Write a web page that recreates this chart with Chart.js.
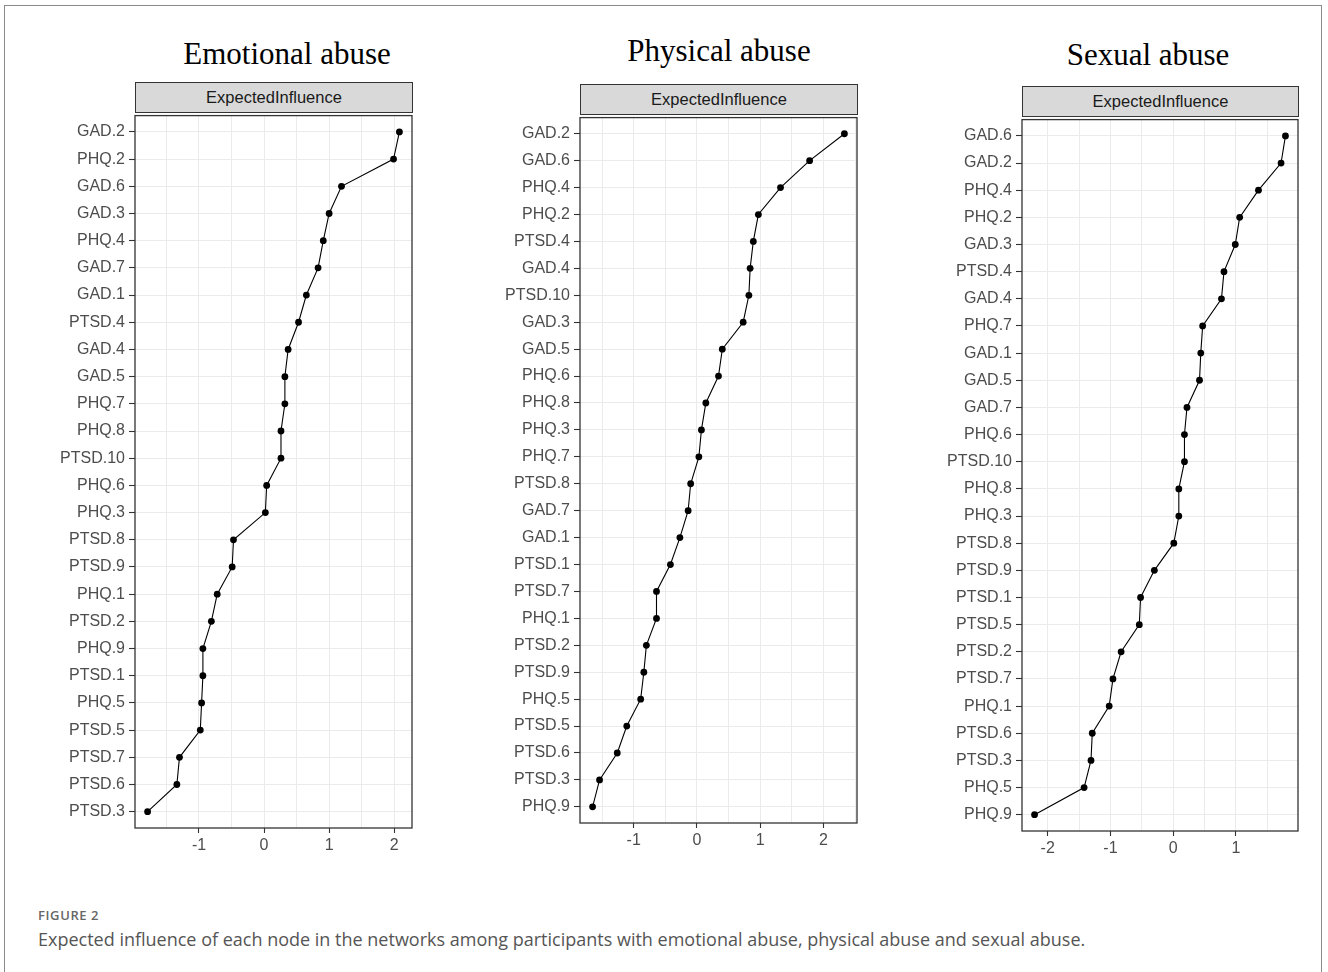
<!DOCTYPE html>
<html>
<head>
<meta charset="utf-8">
<script src="https://cdn.jsdelivr.net/npm/chart.js@4.4.0/dist/chart.umd.min.js"></script>
<style>
  html, body { margin: 0; padding: 0; background: #fff; }
  body { width: 1328px; height: 972px; position: relative; overflow: hidden; }
  #frame { position: absolute; left: 4px; top: 5px; width: 1318px; height: 1000px;
           border: 1.5px solid #8a8a8a; border-bottom: none; box-sizing: border-box; }
  .title { position: absolute; font-family: "Liberation Serif", "Times New Roman", serif;
           font-size: 31px; color: #000; white-space: nowrap; transform: translateX(-50%); line-height: 1; }
  .strip { position: absolute; background: #D9D9D9; border: 1.3px solid #333; box-sizing: border-box;
           font-family: "Liberation Sans", Arial, sans-serif; font-size: 16.5px; color: #1A1A1A;
           display: flex; align-items: center; justify-content: center; }
  .cv { position: absolute; }
  #figlabel { position: absolute; left: 38px; top: 906px; font-family: "Open Sans", "Noto Sans", sans-serif;
              font-size: 13px; font-weight: 600; color: #666; letter-spacing: 0.6px; }
  #caption { position: absolute; left: 38px; top: 927px; font-family: "Open Sans", "Noto Sans", sans-serif;
             font-size: 18px; color: #555; white-space: nowrap; }
</style>
</head>
<body>
<div id="frame"></div>

<div class="title" style="left:287px; top:38px;">Emotional abuse</div>
<div class="title" style="left:719px; top:35px;">Physical abuse</div>
<div class="title" style="left:1148px; top:39px;">Sexual abuse</div>

<div class="strip" id="strip1">ExpectedInfluence</div>
<div class="strip" id="strip2">ExpectedInfluence</div>
<div class="strip" id="strip3">ExpectedInfluence</div>

<div class="cv" id="w1"><canvas id="c1"></canvas></div>
<div class="cv" id="w2"><canvas id="c2"></canvas></div>
<div class="cv" id="w3"><canvas id="c3"></canvas></div>

<div id="figlabel">FIGURE 2</div>
<div id="caption">Expected influence of each node in the networks among participants with emotional abuse, physical abuse and sexual abuse.</div>

<script>
// ---- Data ----
const emotionalLabels = ["GAD.2","PHQ.2","GAD.6","GAD.3","PHQ.4","GAD.7","GAD.1","PTSD.4","GAD.4","GAD.5","PHQ.7","PHQ.8","PTSD.10","PHQ.6","PHQ.3","PTSD.8","PTSD.9","PHQ.1","PTSD.2","PHQ.9","PTSD.1","PHQ.5","PTSD.5","PTSD.7","PTSD.6","PTSD.3"];
const emotionalValues = [2.08,1.99,1.19,1.00,0.91,0.83,0.65,0.53,0.37,0.32,0.32,0.26,0.26,0.04,0.02,-0.47,-0.49,-0.72,-0.81,-0.94,-0.94,-0.96,-0.98,-1.30,-1.34,-1.79];

const physicalLabels = ["GAD.2","GAD.6","PHQ.4","PHQ.2","PTSD.4","GAD.4","PTSD.10","GAD.3","GAD.5","PHQ.6","PHQ.8","PHQ.3","PHQ.7","PTSD.8","GAD.7","GAD.1","PTSD.1","PTSD.7","PHQ.1","PTSD.2","PTSD.9","PHQ.5","PTSD.5","PTSD.6","PTSD.3","PHQ.9"];
const physicalValues = [2.33,1.78,1.32,0.97,0.89,0.84,0.82,0.73,0.40,0.34,0.14,0.07,0.03,-0.10,-0.14,-0.27,-0.42,-0.64,-0.64,-0.80,-0.84,-0.89,-1.11,-1.26,-1.54,-1.65];

const sexualLabels = ["GAD.6","GAD.2","PHQ.4","PHQ.2","GAD.3","PTSD.4","GAD.4","PHQ.7","GAD.1","GAD.5","GAD.7","PHQ.6","PTSD.10","PHQ.8","PHQ.3","PTSD.8","PTSD.9","PTSD.1","PTSD.5","PTSD.2","PTSD.7","PHQ.1","PTSD.6","PTSD.3","PHQ.5","PHQ.9"];
const sexualValues = [1.79,1.72,1.36,1.06,0.99,0.81,0.77,0.47,0.44,0.42,0.22,0.18,0.18,0.09,0.09,0.01,-0.30,-0.52,-0.54,-0.83,-0.96,-1.02,-1.29,-1.31,-1.42,-2.21];

const stripText = "ExpectedInfluence";

// ---- Layout (chart-area boxes in page pixels) ----
const panels = [
  { id: 1, labels: emotionalLabels, values: emotionalValues, L: 135, R: 412, T: 112, B: 828 },
  { id: 2, labels: physicalLabels,  values: physicalValues,  L: 580, R: 857, T: 114, B: 823 },
  { id: 3, labels: sexualLabels,    values: sexualValues,    L: 1022, R: 1298, T: 116, B: 831 }
];

const YW = 110;   // fixed y-axis box width
const XH = 40;    // fixed x-axis box height
const PADT = 10, PADR = 12;
const STRIP_H = 30;

const borderPlugin = {
  id: 'panelBorder',
  afterDraw(chart) {
    const a = chart.chartArea, ctx = chart.ctx;
    ctx.save();
    ctx.strokeStyle = '#333333';
    ctx.lineWidth = 1.3;
    ctx.strokeRect(a.left, a.top, a.right - a.left, a.bottom - a.top);
    ctx.restore();
  }
};

const tickFont = { family: "'Liberation Sans', Arial, sans-serif", size: 16 };
const isInt = v => Math.abs(v - Math.round(v)) < 1e-9;

panels.forEach(p => {
  const w = (p.R - p.L) + YW + PADR;
  const h = (p.B - p.T) + PADT + XH;
  const wrap = document.getElementById('w' + p.id);
  wrap.style.left = (p.L - YW) + 'px';
  wrap.style.top = (p.T - PADT) + 'px';
  wrap.style.width = w + 'px';
  wrap.style.height = h + 'px';

  const strip = document.getElementById('strip' + p.id);
  strip.textContent = stripText;
  strip.style.left = p.L + 'px';
  strip.style.top = (p.T - STRIP_H) + 'px';
  strip.style.width = (p.R - p.L + 1) + 'px';
  strip.style.height = (STRIP_H + 1) + 'px';

  const n = p.labels.length;
  const vmin = Math.min(...p.values), vmax = Math.max(...p.values);
  const span = vmax - vmin;
  const xmin = vmin - 0.05 * span, xmax = vmax + 0.05 * span;

  const pts = p.values.map((v, i) => ({ x: v, y: i }));

  new Chart(document.getElementById('c' + p.id), {
    type: 'line',
    data: {
      datasets: [{
        data: pts,
        borderColor: '#000',
        borderWidth: 1.1,
        backgroundColor: '#000',
        pointRadius: 3.4,
        pointBorderWidth: 0,
        pointBackgroundColor: '#000',
        tension: 0,
        fill: false
      }]
    },
    options: {
      responsive: true,
      maintainAspectRatio: false,
      animation: false,
      layout: { padding: { top: PADT, right: PADR, left: 0, bottom: 0 } },
      plugins: { legend: { display: false }, tooltip: { enabled: false }, title: { display: false } },
      scales: {
        x: {
          type: 'linear',
          min: xmin, max: xmax,
          afterBuildTicks(scale) {
            const t = [];
            for (let v = Math.ceil(xmin * 2) / 2; v <= xmax + 1e-9; v += 0.5) t.push({ value: Math.round(v * 2) / 2 });
            scale.ticks = t;
          },
          afterFit(scale) { scale.height = XH; },
          ticks: {
            autoSkip: false, maxRotation: 0, padding: 3,
            color: '#4D4D4D', font: tickFont,
            callback: v => isInt(v) ? String(Math.round(v)) : ''
          },
          grid: {
            color: '#EBEBEB', lineWidth: 1,
            drawTicks: true, tickLength: 5,
            tickColor: ctx => (ctx.tick && isInt(ctx.tick.value)) ? '#333333' : 'rgba(0,0,0,0)',
            tickWidth: 1.1
          },
          border: { display: false }
        },
        y: {
          type: 'linear',
          reverse: true,
          min: -0.6, max: n - 1 + 0.6,
          afterBuildTicks(scale) {
            scale.ticks = p.labels.map((l, i) => ({ value: i }));
          },
          afterFit(scale) { scale.width = YW; },
          ticks: {
            autoSkip: false, padding: 4,
            color: '#4D4D4D', font: tickFont,
            callback: v => p.labels[v] !== undefined ? p.labels[v] : ''
          },
          grid: {
            color: '#EBEBEB', lineWidth: 1,
            drawTicks: true, tickLength: 6, tickColor: '#333333', tickWidth: 1.1
          },
          border: { display: false }
        }
      }
    },
    plugins: [borderPlugin]
  });
});
</script>
</body>
</html>
